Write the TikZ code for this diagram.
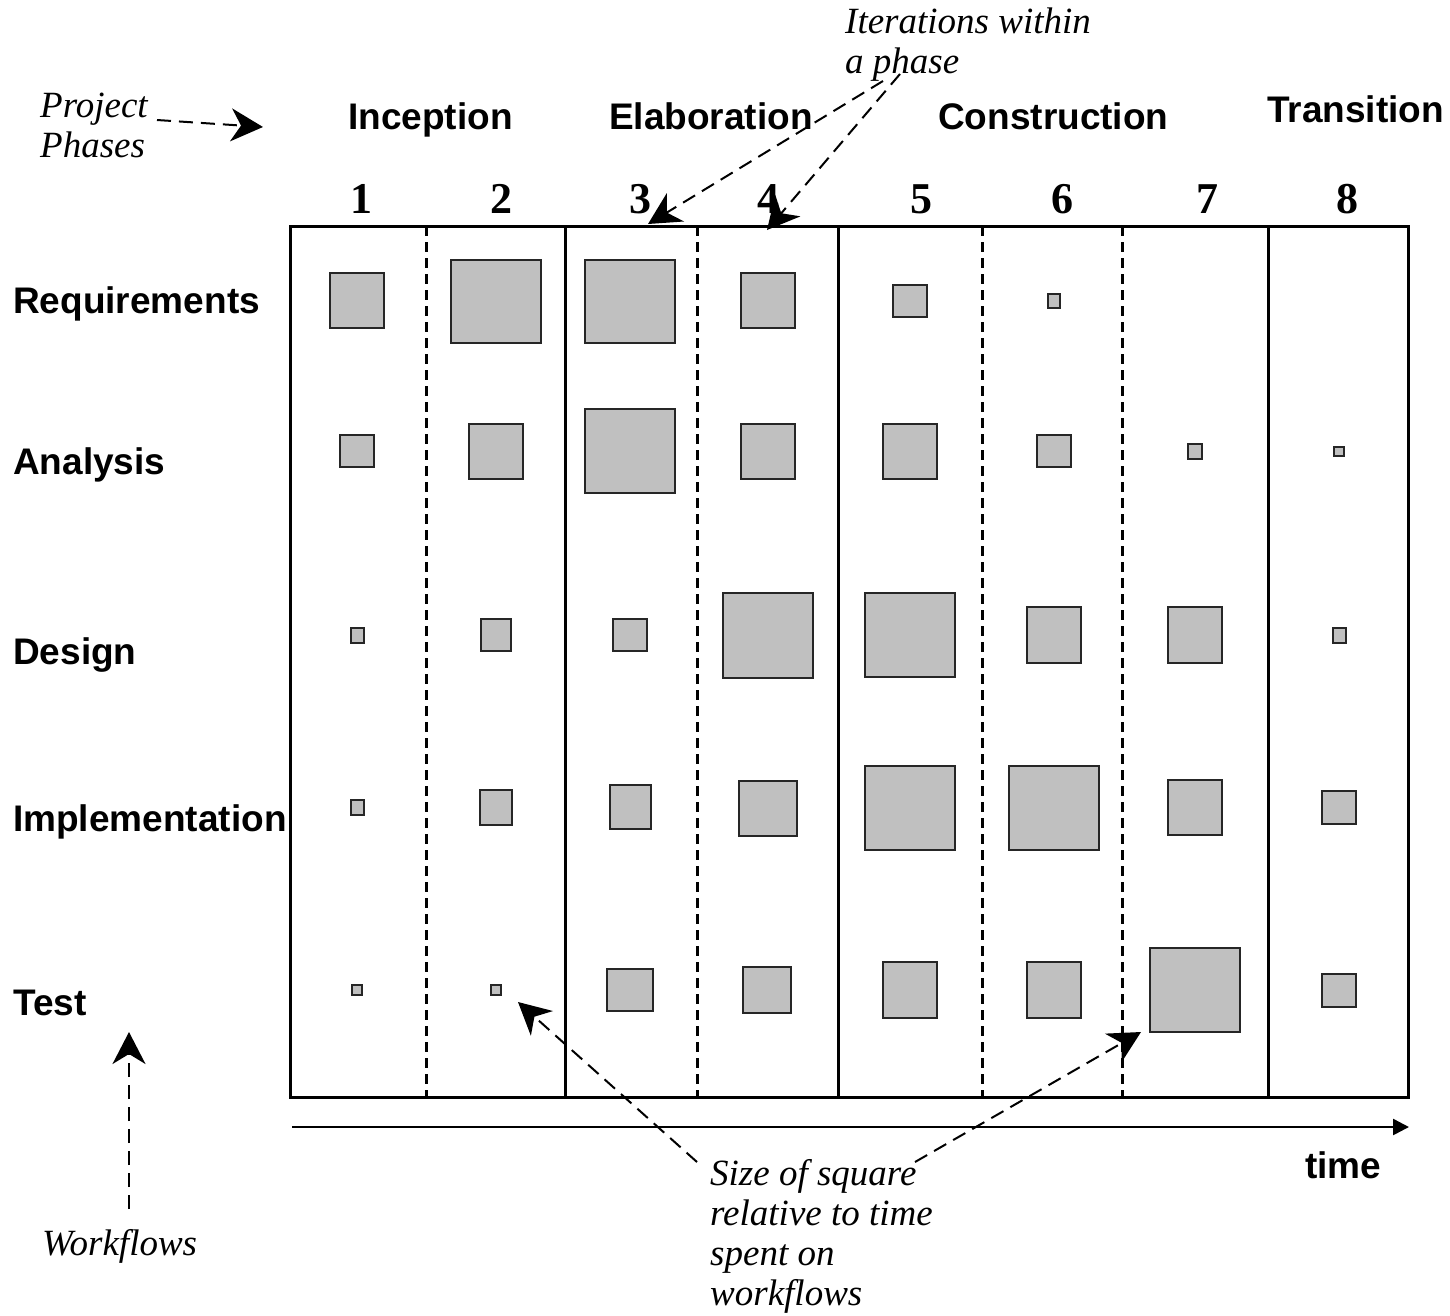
\documentclass[tikz,border=0pt]{standalone}
\usepackage{fontspec}
\setmainfont{Liberation Serif}
\setsansfont{Liberation Sans}
\usetikzlibrary{arrows.meta}
\definecolor{sqfill}{HTML}{C0C0C0}
\begin{document}
\begin{tikzpicture}[x=1pt,y=-1pt,
  sq/.style={draw=black!85,line width=2pt,fill=sqfill,inner sep=0pt},
  frameline/.style={line width=3pt},
  iterline/.style={line width=3pt,dash pattern=on 10pt off 6pt},
  lbl/.style={anchor=base west,inner sep=0pt,font=\sffamily\bfseries\fontsize{37}{40}\selectfont},
  num/.style={anchor=base,inner sep=0pt,font=\rmfamily\bfseries\fontsize{44}{44}\selectfont},
  note/.style={anchor=base west,inner sep=0pt,align=left,font=\rmfamily\itshape\fontsize{37}{40}\selectfont},
  ann/.style={line width=2pt,dash pattern=on 14pt off 8pt,-{Stealth[length=32pt,width=33pt,inset=10pt]}},
  timearrow/.style={line width=2.5pt,-{Triangle[length=16pt,width=16pt]}}
]
\useasboundingbox (0,0) rectangle (1450,1315);

% frame
\draw[frameline] (290,226) rectangle (1408,1097);
\coordinate (t1) at (565,226); \coordinate (b1) at (565,1097);
\coordinate (t2) at (838,226); \coordinate (b2) at (838,1097);
\coordinate (t3) at (1268,226); \coordinate (b3) at (1268,1097);
\draw[frameline] (t1) -- (b1);
\draw[frameline] (t2) -- (b2);
\draw[frameline] (t3) -- (b3);
\coordinate (d1t) at (426,226); \coordinate (d1b) at (426,1097);
\coordinate (d2t) at (697,226); \coordinate (d2b) at (697,1097);
\coordinate (d3t) at (982,226); \coordinate (d3b) at (982,1097);
\coordinate (d4t) at (1122,226); \coordinate (d4b) at (1122,1097);
\draw[iterline] (d1t) -- (d1b);
\draw[iterline] (d2t) -- (d2b);
\draw[iterline] (d3t) -- (d3b);
\draw[iterline] (d4t) -- (d4b);

% time arrow
\coordinate (ts) at (292,1127); \coordinate (te) at (1409,1127);
\draw[timearrow] (ts) -- (te);
\node[lbl] (time) at (1305,1178) {time};

% phases
\node[lbl] (ph1) at (348,129) {Inception};
\node[lbl] (ph2) at (609,129) {Elaboration};
\node[lbl] (ph3) at (938,129) {Construction};
\node[lbl] (ph4) at (1267,122) {Transition};

% iteration numbers
\node[num] (n1) at (361,213) {1};
\node[num] (n2) at (501,213) {2};
\node[num] (n3) at (640,213) {3};
\node[num] (n4) at (768,213) {4};
\node[num] (n5) at (921,213) {5};
\node[num] (n6) at (1062,213) {6};
\node[num] (n7) at (1207,213) {7};
\node[num] (n8) at (1347,213) {8};

% workflows
\node[lbl] (w1) at (13,313) {Requirements};
\node[lbl] (w2) at (13,474) {Analysis};
\node[lbl] (w3) at (13,664) {Design};
\node[lbl] (w4) at (13,831) {Implementation};
\node[lbl] (w5) at (13,1015) {Test};

% squares: Requirements
\node[sq,minimum width=54pt,minimum height=55pt] (s11) at (357,300) {};
\node[sq,minimum width=90pt,minimum height=83pt] (s12) at (496,301) {};
\node[sq,minimum width=90pt,minimum height=83pt] (s13) at (630,301) {};
\node[sq,minimum width=54pt,minimum height=55pt] (s14) at (768,300) {};
\node[sq,minimum width=34pt,minimum height=32pt] (s15) at (910,301) {};
\node[sq,minimum width=12pt,minimum height=14pt] (s16) at (1054,301) {};
% Analysis
\node[sq,minimum width=34pt,minimum height=32pt] (s21) at (357,451) {};
\node[sq,minimum width=54pt,minimum height=55pt] (s22) at (496,451) {};
\node[sq,minimum width=90pt,minimum height=84pt] (s23) at (630,451) {};
\node[sq,minimum width=54pt,minimum height=55pt] (s24) at (768,451) {};
\node[sq,minimum width=54pt,minimum height=55pt] (s25) at (910,451) {};
\node[sq,minimum width=34pt,minimum height=32pt] (s26) at (1054,451) {};
\node[sq,minimum width=14pt,minimum height=15pt] (s27) at (1195,451) {};
\node[sq,minimum width=10pt,minimum height=9pt] (s28) at (1339,451) {};
% Design
\node[sq,minimum width=13pt,minimum height=15pt] (s31) at (357,635) {};
\node[sq,minimum width=30pt,minimum height=32pt] (s32) at (496,635) {};
\node[sq,minimum width=34pt,minimum height=32pt] (s33) at (630,635) {};
\node[sq,minimum width=90pt,minimum height=85pt] (s34) at (768,635) {};
\node[sq,minimum width=90pt,minimum height=84pt] (s35) at (910,635) {};
\node[sq,minimum width=54pt,minimum height=56pt] (s36) at (1054,635) {};
\node[sq,minimum width=54pt,minimum height=56pt] (s37) at (1195,635) {};
\node[sq,minimum width=13pt,minimum height=15pt] (s38) at (1339,635) {};
% Implementation
\node[sq,minimum width=13pt,minimum height=15pt] (s41) at (357,807) {};
\node[sq,minimum width=32pt,minimum height=35pt] (s42) at (496,807) {};
\node[sq,minimum width=41pt,minimum height=44pt] (s43) at (630,807) {};
\node[sq,minimum width=58pt,minimum height=55pt] (s44) at (768,808) {};
\node[sq,minimum width=90pt,minimum height=84pt] (s45) at (910,808) {};
\node[sq,minimum width=90pt,minimum height=84pt] (s46) at (1054,808) {};
\node[sq,minimum width=54pt,minimum height=55pt] (s47) at (1195,807) {};
\node[sq,minimum width=34pt,minimum height=33pt] (s48) at (1339,807) {};
% Test
\node[sq,minimum width=10pt,minimum height=10pt] (s51) at (357,990) {};
\node[sq,minimum width=10pt,minimum height=10pt] (s52) at (496,990) {};
\node[sq,minimum width=46pt,minimum height=42pt] (s53) at (630,990) {};
\node[sq,minimum width=48pt,minimum height=46pt] (s54) at (767,990) {};
\node[sq,minimum width=54pt,minimum height=56pt] (s55) at (910,990) {};
\node[sq,minimum width=54pt,minimum height=56pt] (s56) at (1054,990) {};
\node[sq,minimum width=90pt,minimum height=84pt] (s57) at (1195,990) {};
\node[sq,minimum width=34pt,minimum height=33pt] (s58) at (1339,990) {};

% annotations (base anchor = baseline of the last line)
\node[note] (pp) at (40,157) {Project\\Phases};
\node[note] (it) at (845,73) {Iterations within\\a phase};
\node[note] (sz) at (710,1305) {Size of square\\relative to time\\spent on\\workflows};
\node[note] (wf) at (42,1255) {Workflows};

\coordinate (ppS) at (157,120); \coordinate (ppT) at (263,127);
\draw[ann] (ppS) -- (ppT);
\coordinate (itS1) at (883,81); \coordinate (itT1) at (648,224);
\coordinate (itS2) at (900,74); \coordinate (itT2) at (767,230);
\draw[ann] (itS1) -- (itT1);
\draw[ann] (itS2) -- (itT2);
\coordinate (wfS) at (129,1209); \coordinate (wfT) at (129,1032);
\draw[ann] (wfS) -- (wfT);
\coordinate (szS1) at (697,1162); \coordinate (szT1) at (518,1002);
\coordinate (szS2) at (915,1162); \coordinate (szT2) at (1141,1032);
\draw[ann] (szS1) -- (szT1);
\draw[ann] (szS2) -- (szT2);
\end{tikzpicture}
\end{document}
